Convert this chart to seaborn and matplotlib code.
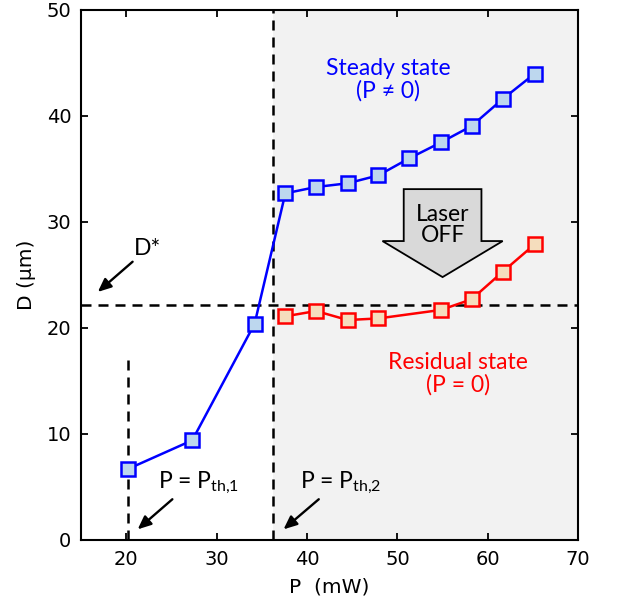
import numpy as np
import pandas as pd
import seaborn as sns
import matplotlib
matplotlib.use("Agg")
import matplotlib.pyplot as plt
from matplotlib.patches import FancyArrow

# data
p_steady = [20.2, 27.3, 34.2, 37.6, 41.0, 44.5, 47.9, 51.3, 54.8, 58.2, 61.65, 65.2]
d_steady = [6.7, 9.4, 20.4, 32.7, 33.3, 33.65, 34.4, 36.0, 37.5, 39.05, 41.6, 44.0]
p_resid = [37.6, 41.0, 44.5, 47.9, 54.8, 58.2, 61.65, 65.2]
d_resid = [21.1, 21.6, 20.75, 20.9, 21.7, 22.7, 25.3, 27.9]
d_star = 22.2
p_th1 = 20.15
p_th2 = 36.2

sns.set_style("ticks")
plt.rcParams["font.family"] = ["DejaVu Sans"]
plt.rcParams["text.color"] = "k"
plt.rcParams["axes.labelcolor"] = "k"
ann_font = ["Lato", "DejaVu Sans"]

fig = plt.figure(figsize=(6.19, 6.06), dpi=100)
ax = fig.add_axes([0.131, 0.109, 0.803, 0.8745])

ax.axvspan(p_th2, 70, color="#f2f2f2", zorder=0, lw=0)

dash = (4, 2.8)
ax.axhline(d_star, color="k", lw=1.8, dashes=dash, zorder=1)
ax.axvline(p_th2, color="k", lw=1.8, dashes=dash, zorder=1)
ax.plot([p_th1, p_th1], [0, 17.5], color="k", lw=1.8, dashes=dash, zorder=1)

steady = pd.DataFrame({"P": p_steady, "D": d_steady})
resid = pd.DataFrame({"P": p_resid, "D": d_resid})
sns.lineplot(data=steady, x="P", y="D", ax=ax, color="#0000ff", lw=1.8,
             marker="s", markersize=10.5, markerfacecolor="#bdd7ee",
             markeredgecolor="#0000ff", markeredgewidth=1.8, zorder=3)
sns.lineplot(data=resid, x="P", y="D", ax=ax, color="#ff0000", lw=1.8,
             marker="s", markersize=10.5, markerfacecolor="#f5ddbd",
             markeredgecolor="#ff0000", markeredgewidth=1.8, zorder=3)

# Laser OFF block arrow
ax.add_patch(FancyArrow(55.0, 33.1, 0, -8.3, width=8.6, head_width=13.3,
                        head_length=3.4, length_includes_head=True,
                        facecolor="#d9d9d9", edgecolor="k", lw=1.3, zorder=4))
ax.text(55.0, 29.7, "Laser\nOFF", ha="center", va="center", fontsize=16.5,
        family=ann_font, linespacing=1.0, zorder=5)

ax.text(49.0, 43.4, "Steady state\n(P ≠ 0)", ha="center", va="center",
        fontsize=16.5, color="#0000ff", family=ann_font, linespacing=1.05)
ax.text(56.7, 15.7, "Residual state\n(P = 0)", ha="center", va="center",
        fontsize=16.5, color="#ff0000", family=ann_font, linespacing=1.05)

arrow = dict(arrowstyle="-|>,head_length=0.8,head_width=0.35", color="k",
             lw=1.7, shrinkA=0, shrinkB=0)
ax.text(22.4, 27.5, "D*", ha="center", va="center", fontsize=16.5,
        family=ann_font)
ax.annotate("", xy=(16.85, 23.4), xytext=(20.7, 26.25), arrowprops=arrow)
ax.text(23.5, 5.4, r"P = P$_\mathregular{th{,}1}$", ha="left", va="center",
        fontsize=16.5, family=ann_font)
ax.annotate("", xy=(21.26, 1.0), xytext=(25.1, 3.84), arrowprops=arrow)
ax.text(39.2, 5.4, r"P = P$_\mathregular{th{,}2}$", ha="left", va="center",
        fontsize=16.5, family=ann_font)
ax.annotate("", xy=(37.4, 1.0), xytext=(41.3, 3.84), arrowprops=arrow)

ax.set_xlim(15, 70)
ax.set_ylim(0, 50)
ax.set_xticks([20, 30, 40, 50, 60, 70])
ax.set_yticks([0, 10, 20, 30, 40, 50])
ax.tick_params(direction="in", length=5, width=1.3, labelsize=14, pad=7,
               top=True, right=True, colors="k")
for s in ax.spines.values():
    s.set_linewidth(1.5)
    s.set_color("k")
ax.set_xlabel("P  (mW)", fontsize=14.5, labelpad=6)
ax.set_ylabel("D (μm)", fontsize=14.5, labelpad=8)

fig.savefig("out.png", dpi=100)
